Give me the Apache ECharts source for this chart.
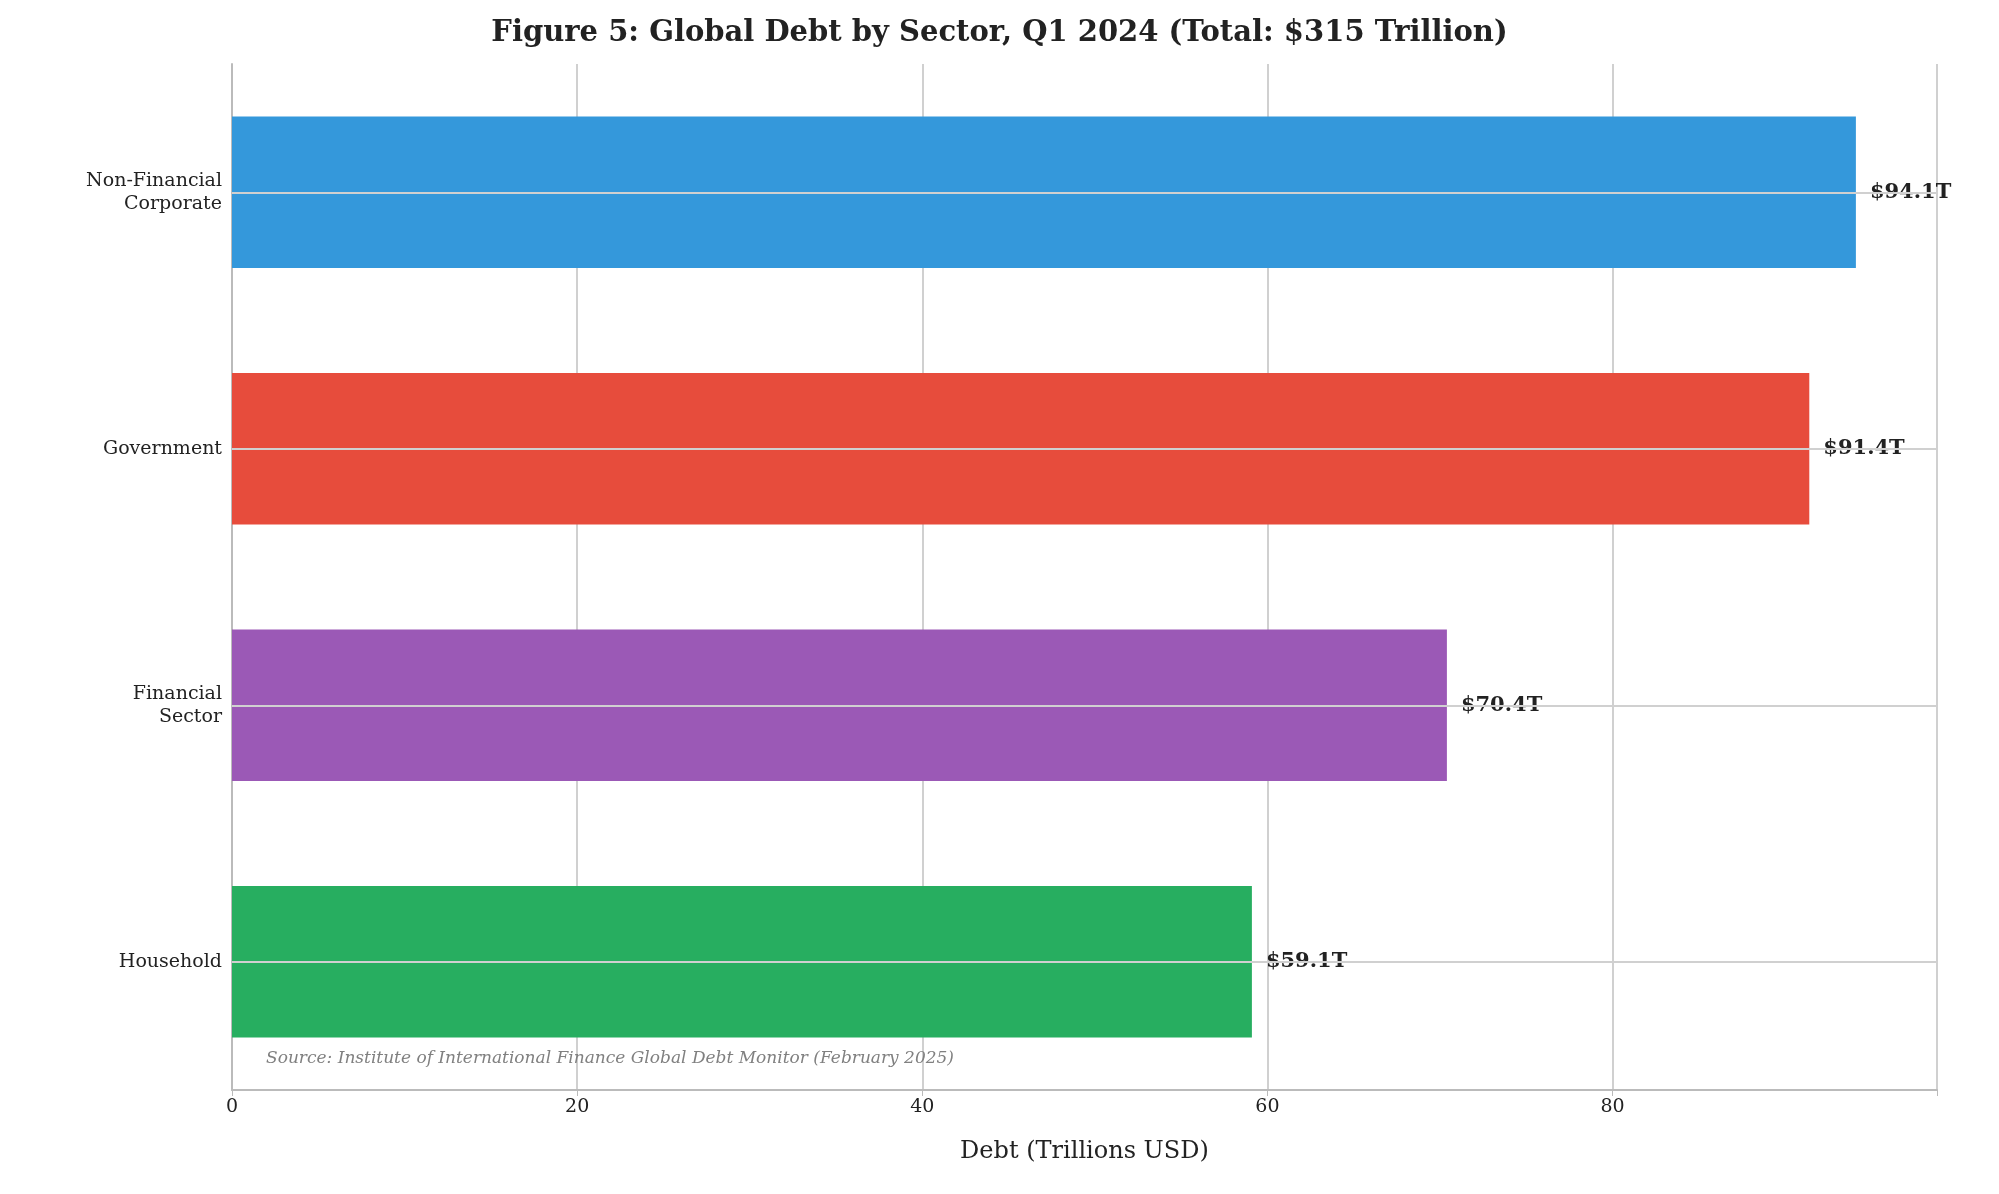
<!DOCTYPE html><html><head><meta charset="utf-8"><script src="https://cdn.jsdelivr.net/npm/echarts@6/dist/echarts.min.js"></script>
<style>html,body{margin:0;background:#fff}#c{width:1999px;height:1194px}</style></head><body><div id="c"></div><script>
const categories=['Household','Financial\nSector','Government','Non-Financial\nCorporate'];
const values=[59.1,70.4,91.4,94.1];
const colors=['#27ae60','#9b59b6','#e74c3c','#3498db'];
const xTicks=[0,20,40,60,80];
const F='DejaVu Serif';
const chart=echarts.init(document.getElementById('c'));
chart.setOption({
 animation:false,
 title:{text:'Figure 5: Global Debt by Sector, Q1 2024 (Total: $315 Trillion)',left:'center',top:14,textStyle:{fontFamily:F,fontSize:29,fontWeight:'bold',color:'#222'}},
 grid:{left:232,right:62,top:64,bottom:104},
 xAxis:{type:'value',min:0,max:98.8,interval:20,name:'Debt (Trillions USD)',nameLocation:'middle',nameGap:50,
  nameTextStyle:{fontFamily:F,fontSize:24,color:'#222'},
  axisLine:{show:true,lineStyle:{color:'#bbb',width:2}},axisTick:{show:true,length:6,lineStyle:{color:'#bbb'}},
  axisLabel:{fontFamily:F,fontSize:19,color:'#222',formatter:v=>xTicks.includes(v)?String(v):''},
  splitLine:{show:true,lineStyle:{color:'#d0d0d0',width:2}}},
 yAxis:{type:'category',data:categories,axisLine:{show:true,lineStyle:{color:'#bbb',width:2}},axisTick:{show:false},
  axisLabel:{fontFamily:F,fontSize:19,color:'#222',lineHeight:23,margin:10},splitLine:{show:false}},
 series:[
  {type:'bar',data:[],z:0,markLine:{silent:true,symbol:'none',label:{show:false},lineStyle:{color:'#d0d0d0',width:2,type:'solid'},
    data:categories.map(c=>({yAxis:c}))}},
  {type:'bar',barCategoryGap:'41%',barGap:'-100%',z:2,
   data:values.map((v,i)=>({value:v,itemStyle:{color:colors[i]}})),
   label:{show:true,position:'right',distance:14,fontFamily:F,fontSize:21,fontWeight:'bold',color:'#222',formatter:p=>'$'+p.value.toFixed(1)+'T'}}
 ],
 graphic:[{type:'text',left:266,top:1050,z:10,style:{text:'Source: Institute of International Finance Global Debt Monitor (February 2025)',fontFamily:F,fontStyle:'italic',fontSize:17,fill:'#808080'}}]
});
</script></body></html>
